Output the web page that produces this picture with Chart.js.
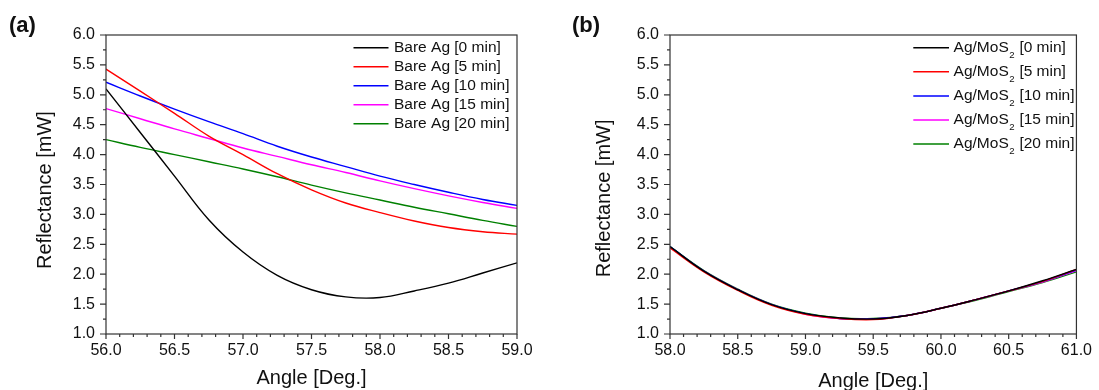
<!DOCTYPE html>
<html>
<head>
<meta charset="utf-8">
<script src="https://cdn.jsdelivr.net/npm/chart.js@4"></script>
<style>
  html, body { margin: 0; padding: 0; background: #fff; }
  #wrap { position: relative; width: 1099px; height: 390px; overflow: hidden; }
  .panel { position: absolute; top: 0; }
  .tag { position: absolute; top: 12px; font: bold 22px "Liberation Sans", Arial, sans-serif; color: #111; }
</style>
</head>
<body>
<div id="wrap">
  <canvas id="chartA" class="panel" style="left:0" width="550" height="390"></canvas>
  <canvas id="chartB" class="panel" style="left:550px" width="549" height="390"></canvas>
  <div class="tag" style="left:9px">(a)</div>
  <div class="tag" style="left:572px">(b)</div>
</div>
<script>
// panel (a): bare Ag
const angleA = [56.0, 56.25, 56.5, 56.75, 57.0, 57.25, 57.5, 57.75, 58.0, 58.25, 58.5, 58.75, 59.0];
const bare0  = [5.10, 4.37, 3.64, 2.91, 2.37, 1.98, 1.74, 1.62, 1.61, 1.72, 1.85, 2.02, 2.19];
const bare5  = [5.43, 5.06, 4.69, 4.31, 4.00, 3.68, 3.41, 3.19, 3.03, 2.89, 2.78, 2.71, 2.67];
const bare10 = [5.21, 4.98, 4.76, 4.55, 4.35, 4.14, 3.96, 3.80, 3.64, 3.50, 3.37, 3.25, 3.15];
const bare15 = [4.77, 4.60, 4.43, 4.27, 4.11, 3.97, 3.83, 3.70, 3.56, 3.43, 3.31, 3.20, 3.10];
const bare20 = [4.25, 4.12, 4.00, 3.88, 3.76, 3.63, 3.49, 3.36, 3.24, 3.12, 3.01, 2.90, 2.80];
const labelsA = ['Bare Ag [0 min]', 'Bare Ag [5 min]', 'Bare Ag [10 min]', 'Bare Ag [15 min]', 'Bare Ag [20 min]'];

// panel (b): Ag/MoS2
const angleB = [58.0, 58.25, 58.5, 58.75, 59.0, 59.25, 59.5, 59.75, 60.0, 60.25, 60.5, 60.75, 61.0];
const mos0  = [2.46, 2.05, 1.74, 1.49, 1.34, 1.27, 1.25, 1.31, 1.43, 1.57, 1.72, 1.89, 2.08];
const mos5  = [2.44, 2.04, 1.73, 1.48, 1.33, 1.26, 1.24, 1.31, 1.43, 1.57, 1.72, 1.88, 2.08];
const mos10 = [2.46, 2.05, 1.74, 1.49, 1.34, 1.26, 1.25, 1.31, 1.43, 1.57, 1.72, 1.88, 2.07];
const mos15 = [2.45, 2.05, 1.74, 1.49, 1.33, 1.26, 1.25, 1.31, 1.43, 1.57, 1.72, 1.87, 2.06];
const mos20 = [2.46, 2.06, 1.75, 1.50, 1.35, 1.27, 1.26, 1.31, 1.43, 1.56, 1.71, 1.86, 2.04];
const labelsB = ['Ag/MoS₂ [0 min]', 'Ag/MoS₂ [5 min]', 'Ag/MoS₂ [10 min]', 'Ag/MoS₂ [15 min]', 'Ag/MoS₂ [20 min]'];

const seriesColors = ['#000000', '#ff0000', '#0000ff', '#ff00ff', '#008000'];
const FONT = '"Liberation Sans", Arial, sans-serif';
const TEXT = '#111';

const isMajor = v => Math.abs(v * 2 - Math.round(v * 2)) < 1e-6;

// box around plot area + outward tick marks (major/minor)
const frameTicks = {
    id: 'frameTicks',
    afterDatasetsDraw(chart) {
        const { ctx, chartArea: a, scales: { x, y } } = chart;
        ctx.save();
        ctx.strokeStyle = '#333';
        ctx.lineWidth = 1.2;
        ctx.strokeRect(a.left, a.top, a.right - a.left, a.bottom - a.top);
        ctx.beginPath();
        x.ticks.forEach((t, i) => {
            const px = x.getPixelForTick(i);
            ctx.moveTo(px, a.bottom);
            ctx.lineTo(px, a.bottom + (isMajor(t.value) ? 5 : 3));
        });
        y.ticks.forEach((t, i) => {
            const py = y.getPixelForTick(i);
            ctx.moveTo(a.left, py);
            ctx.lineTo(a.left - (isMajor(t.value) ? 6 : 3), py);
        });
        ctx.stroke();
        ctx.restore();
    }
};

// legend drawn inside the plot, with subscript support for "₂"
const innerLegend = {
    id: 'innerLegend',
    afterDraw(chart, args, opts) {
        const ctx = chart.ctx;
        ctx.save();
        ctx.textBaseline = 'middle';
        chart.data.datasets.forEach((ds, i) => {
            const y = opts.top + i * opts.rowGap;
            ctx.strokeStyle = ds.borderColor;
            ctx.lineWidth = 1.5;
            ctx.beginPath();
            ctx.moveTo(opts.left, y);
            ctx.lineTo(opts.left + opts.lineLength, y);
            ctx.stroke();
            let tx = opts.left + opts.lineLength + opts.gap;
            ctx.fillStyle = TEXT;
            const parts = ds.label.split('₂');
            parts.forEach((p, j) => {
                ctx.font = opts.fontSize + 'px ' + FONT;
                ctx.fillText(p, tx, y);
                tx += ctx.measureText(p).width;
                if (j < parts.length - 1) {
                    ctx.font = (opts.fontSize * 0.62) + 'px ' + FONT;
                    ctx.fillText('2', tx + 0.5, y + 7.5);
                    tx += ctx.measureText('2').width + 1;
                }
            });
        });
        ctx.restore();
    }
};

function makeChart(id, angles, series, labels, xMin, xMax, layout) {
    const ctx = document.getElementById(id).getContext('2d');
    return new Chart(ctx, {
        type: 'line',
        data: {
            datasets: series.map((vals, i) => ({
                label: labels[i],
                data: angles.map((a, k) => ({ x: a, y: vals[k] })),
                borderColor: seriesColors[i],
                borderWidth: 1.4,
                pointRadius: 0,
                tension: 0.4,
                fill: false
            }))
        },
        options: {
            responsive: false,
            animation: false,
            events: [],
            layout: { padding: { left: 0, top: 35, right: layout.right, bottom: 0 } },
            plugins: {
                legend: { display: false },
                tooltip: { enabled: false },
                innerLegend: layout.legend
            },
            scales: {
                x: {
                    type: 'linear',
                    min: xMin,
                    max: xMax,
                    grid: { display: false, drawTicks: false },
                    border: { display: false },
                    ticks: {
                        stepSize: 0.1,
                        autoSkip: false,
                        maxRotation: 0,
                        padding: 7,
                        color: TEXT,
                        font: { family: FONT, size: 16 },
                        callback: v => isMajor(v) ? v.toFixed(1) : ''
                    },
                    title: {
                        display: true,
                        text: 'Angle [Deg.]',
                        color: TEXT,
                        font: { family: FONT, size: 20 },
                        padding: { top: 0, bottom: layout.xTitlePad }
                    },
                    afterFit: s => { s.height = 56; }
                },
                y: {
                    min: 1,
                    max: 6,
                    grid: { display: false, drawTicks: false },
                    border: { display: false },
                    ticks: {
                        stepSize: 0.25,
                        autoSkip: false,
                        padding: 11,
                        color: TEXT,
                        font: { family: FONT, size: 16 },
                        callback: v => isMajor(v) ? v.toFixed(1) : ''
                    },
                    title: {
                        display: true,
                        text: layout.yTitle,
                        color: TEXT,
                        font: { family: FONT, size: 20 },
                        padding: { top: layout.yTitlePad, bottom: 0 }
                    },
                    afterFit: s => { s.width = layout.axisLeft; }
                }
            }
        },
        plugins: [frameTicks, innerLegend]
    });
}

// trailing spaces nudge the rotated title slightly down, as in the source figure
makeChart('chartA', angleA, [bare0, bare5, bare10, bare15, bare20], labelsA, 56, 59, {
    right: 33, axisLeft: 106, yTitlePad: 33.5, xTitlePad: 0, yTitle: 'Reflectance [mW]  ',
    legend: { left: 353.5, top: 47.7, rowGap: 19, lineLength: 35, gap: 5.5, fontSize: 15.5 }
});

makeChart('chartB', angleB, [mos0, mos5, mos10, mos15, mos20], labelsB, 58, 61, {
    right: 18, axisLeft: 120, yTitlePad: 42, xTitlePad: -3.7, yTitle: 'Reflectance [mW]     ',
    legend: { left: 363.3, top: 47.7, rowGap: 24.1, lineLength: 35.7, gap: 4.6, fontSize: 15.5 }
});
</script>
</body>
</html>
